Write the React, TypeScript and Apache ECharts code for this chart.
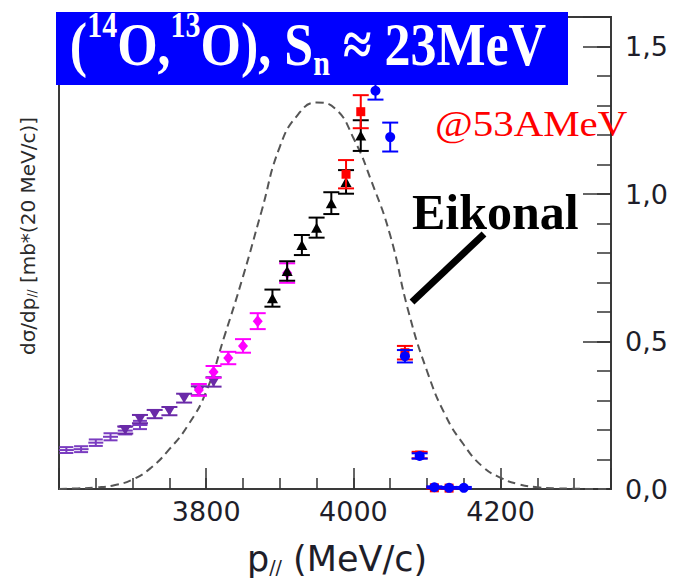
import React, { useEffect, useRef } from "react";
import * as echarts from "echarts";

// Eikonal calculation (dashed curve)
const eikonalX = [3600, 3625, 3650, 3675, 3700, 3725, 3750, 3775, 3800, 3825, 3850, 3875, 3900, 3925, 3950, 3975, 4000, 4025, 4050, 4075, 4100, 4125, 4150, 4175, 4200, 4225, 4250, 4275, 4300, 4325, 4350];
const eikonalY = [0.0, 0.002, 0.005, 0.013, 0.032, 0.072, 0.135, 0.215, 0.33, 0.52, 0.72, 0.94, 1.16, 1.27, 1.31, 1.29, 1.19, 1.04, 0.86, 0.6, 0.4, 0.25, 0.15, 0.077, 0.038, 0.016, 0.006, 0.002, 0.001, 0.0, 0.0];

// purple, plain markers
const purpleBarX = [3610, 3630, 3650, 3670, 3690, 3710];
const purpleBarY = [0.132, 0.135, 0.157, 0.177, 0.198, 0.217];
const purpleBarErr = [0.01, 0.01, 0.011, 0.012, 0.013, 0.014];

// purple, down triangles
const purpleTriX = [3690, 3710, 3730, 3750, 3770, 3790, 3810];
const purpleTriY = [0.2, 0.237, 0.254, 0.264, 0.308, 0.333, 0.363];
const purpleTriErr = [0.012, 0.014, 0.014, 0.014, 0.015, 0.015, 0.016];

// magenta diamonds
const magentaX = [3790, 3810, 3830, 3850, 3870, 3910];
const magentaY = [0.336, 0.397, 0.444, 0.485, 0.569, 0.732];
const magentaErr = [0.02, 0.02, 0.021, 0.023, 0.027, 0.033];

// black up triangles
const blackX = [3890, 3910, 3930, 3950, 3970, 3990, 4010];
const blackY = [0.647, 0.739, 0.827, 0.886, 0.969, 1.041, 1.198];
const blackErr = [0.029, 0.033, 0.034, 0.034, 0.037, 0.04, 0.052];

// red squares
const redX = [3990, 4010, 4070, 4090, 4110, 4130];
const redY = [1.067, 1.279, 0.462, 0.115, 0.004, 0.003];
const redErr = [0.048, 0.056, 0.023, 0.011, 0.003, 0.003];

// blue circles
const blueX = [4030, 4050, 4070, 4090, 4110, 4130, 4150];
const blueY = [1.35, 1.193, 0.45, 0.112, 0.006, 0.004, 0.004];
const blueErr = [0.03, 0.049, 0.021, 0.009, 0.003, 0.003, 0.003];

const xMajorTicks = [3800, 4000, 4200];
const yMajorTicks = [0, 0.5, 1.0, 1.5];

const pairs = (xs: number[], ys: number[]) => xs.map((x, i) => [x, ys[i]]);

function errorSeries(xs: number[], ys: number[], es: number[], color: string, half: number, z: number) {
  return {
    type: "custom",
    z,
    silent: true,
    data: xs.map((x, i) => [x, ys[i] - es[i], ys[i] + es[i]]),
    encode: { x: 0, y: [1, 2] },
    renderItem: (_params: any, api: any) => {
      const x = api.value(0);
      const lo = api.coord([x, api.value(1)]);
      const hi = api.coord([x, api.value(2)]);
      const st = { stroke: color, lineWidth: 2 };
      return {
        type: "group",
        children: [
          { type: "line", shape: { x1: lo[0], y1: lo[1], x2: hi[0], y2: hi[1] }, style: st },
          { type: "line", shape: { x1: lo[0] - half, y1: lo[1], x2: lo[0] + half, y2: lo[1] }, style: st },
          { type: "line", shape: { x1: hi[0] - half, y1: hi[1], x2: hi[0] + half, y2: hi[1] }, style: st },
        ],
      };
    },
  };
}

function markerSeries(xs: number[], ys: number[], color: string, symbol: string, size: any, rotate: number, z: number) {
  return {
    type: "scatter",
    z,
    silent: true,
    data: pairs(xs, ys),
    symbol,
    symbolSize: size,
    symbolRotate: rotate,
    itemStyle: { color, opacity: 1 },
  };
}

const tickFont = "DejaVu Sans";

export default function App() {
  const ref = useRef<HTMLDivElement>(null);
  useEffect(() => {
    if (!ref.current) return;
    const chart = echarts.init(ref.current, undefined, { renderer: "svg" });
    const isMajorX = (v: number) => xMajorTicks.some((t) => Math.abs(t - v) < 1e-6);
    const isMajorY = (v: number) => yMajorTicks.some((t) => Math.abs(t - v) < 1e-6);
    chart.setOption({
      animation: false,
      backgroundColor: "#ffffff",
      grid: { left: 59, right: 65, top: 17, bottom: 89, show: true, borderColor: "#3a3a3a", borderWidth: 2, backgroundColor: "transparent" },
      xAxis: [
        {
          type: "value", min: 3600, max: 4350, interval: 50, position: "bottom",
          axisLine: { show: false },
          axisTick: { show: true, inside: true, length: 11, lineStyle: { color: "#333", width: 1.5 } },
          axisLabel: { show: false },
          splitLine: { show: false },
        },
        {
          type: "value", min: 3600, max: 4350, interval: 200, position: "bottom",
          axisLine: { show: false },
          axisTick: { show: true, inside: true, length: 21, lineStyle: { color: "#333", width: 1.5 } },
          axisLabel: {
            show: true, margin: 9, fontSize: 27, fontFamily: tickFont, color: "#1e1e2a",
            formatter: (v: number) => (isMajorX(v) ? String(v) : ""),
          },
          splitLine: { show: false },
        },
      ],
      yAxis: [
        {
          type: "value", min: 0, max: 1.6, interval: 0.1, position: "right",
          axisLine: { show: false },
          axisTick: { show: true, inside: true, length: 14, lineStyle: { color: "#333", width: 1.5 } },
          axisLabel: { show: false },
          splitLine: { show: false },
        },
        {
          type: "value", min: 0, max: 1.6, interval: 0.5, position: "right",
          axisLine: { show: false },
          axisTick: { show: true, inside: true, length: 28, lineStyle: { color: "#333", width: 1.5 } },
          axisLabel: {
            show: true, margin: 14, fontSize: 27, fontFamily: tickFont, color: "#1e1e2a",
            formatter: (v: number) => (isMajorY(v) ? v.toFixed(1).replace(".", ",") : ""),
          },
          splitLine: { show: false },
        },
      ],
      series: [
        {
          type: "line", z: 2, silent: true, smooth: true, showSymbol: false,
          data: pairs(eikonalX, eikonalY),
          lineStyle: { color: "#555", width: 2, type: [8, 5] },
        },
        errorSeries(purpleBarX, purpleBarY, purpleBarErr, "#7a3cc0", 7, 3),
        markerSeries(purpleBarX, purpleBarY, "#7a3cc0", "rect", [15, 2], 0, 3),
        errorSeries(purpleTriX, purpleTriY, purpleTriErr, "#6a2aa8", 8, 4),
        markerSeries(purpleTriX, purpleTriY, "#6a2aa8", "triangle", [12, 10], 180, 4),
        errorSeries(magentaX, magentaY, magentaErr, "#ff00ff", 8, 5),
        markerSeries(magentaX, magentaY, "#ff00ff", "diamond", [10, 12], 0, 5),
        errorSeries(blackX, blackY, blackErr, "#000000", 8, 6),
        markerSeries(blackX, blackY, "#000000", "triangle", [11, 10], 0, 6),
        errorSeries(redX, redY, redErr, "#ff0000", 8, 7),
        markerSeries(redX, redY, "#ff0000", "rect", [9, 9], 0, 7),
        errorSeries(blueX, blueY, blueErr, "#0000ff", 8, 8),
        markerSeries(blueX, blueY, "#0000ff", "circle", 10, 0, 8),
      ],
      graphic: [
        { type: "rect", z: 100, shape: { x: 56, y: 12, width: 512, height: 73 }, style: { fill: "#0000ff" } },
        {
          type: "text", z: 101, x: 308, y: 44, scaleY: 1.18,
          style: {
            text: "{m|(}{s|14}{m|O,}{s|13}{m|O), S}{b|n}{m| ≈ 23MeV}",
            textAlign: "center", textVerticalAlign: "middle",
            fill: "#ffffff", fontFamily: "Liberation Serif", fontWeight: "bold", fontSize: 52,
            rich: {
              m: { fill: "#ffffff", fontFamily: "Liberation Serif", fontWeight: "bold", fontSize: 52, lineHeight: 62, verticalAlign: "middle" },
              s: { fill: "#ffffff", fontFamily: "Liberation Serif", fontWeight: "bold", fontSize: 30, lineHeight: 40, verticalAlign: "top" },
              b: { fill: "#ffffff", fontFamily: "Liberation Serif", fontWeight: "bold", fontSize: 30, lineHeight: 20, verticalAlign: "bottom" },
            },
          },
        },
        {
          type: "text", z: 101, x: 435, y: 124, scaleX: 1.17,
          style: { text: "@53AMeV", fill: "#ff0000", fontFamily: "Liberation Serif", fontSize: 35, textAlign: "left", textVerticalAlign: "middle" },
        },
        {
          type: "text", z: 101, x: 412, y: 212,
          style: { text: "Eikonal", fill: "#000000", fontFamily: "Liberation Serif", fontWeight: "bold", fontSize: 50, textAlign: "left", textVerticalAlign: "middle" },
        },
        { type: "line", z: 101, shape: { x1: 412, y1: 302, x2: 484, y2: 234 }, style: { stroke: "#000000", lineWidth: 7 } },
        {
          type: "text", z: 101, x: 28, y: 236, rotation: Math.PI / 2,
          style: {
            text: "dσ/dp{s|//} [mb*(20 MeV/c)]",
            fill: "#2a2a2a", fontFamily: "DejaVu Sans", fontSize: 20, textAlign: "center", textVerticalAlign: "middle",
            rich: { s: { fill: "#2a2a2a", fontFamily: "DejaVu Sans", fontSize: 12, lineHeight: 8, verticalAlign: "bottom" } },
          },
        },
        {
          type: "text", z: 101, x: 337, y: 559,
          style: {
            text: "p{s|//} (MeV/c)",
            fill: "#1e1e2a", fontFamily: "DejaVu Sans", fontSize: 35, textAlign: "center", textVerticalAlign: "middle",
            rich: { s: { fill: "#1e1e2a", fontFamily: "DejaVu Sans", fontSize: 19, lineHeight: 12, verticalAlign: "bottom" } },
          },
        },
      ],
    });
    return () => chart.dispose();
  }, []);
  return <div ref={ref} style={{ position: "absolute", left: 0, top: 0, width: 676, height: 578 }} />;
}
